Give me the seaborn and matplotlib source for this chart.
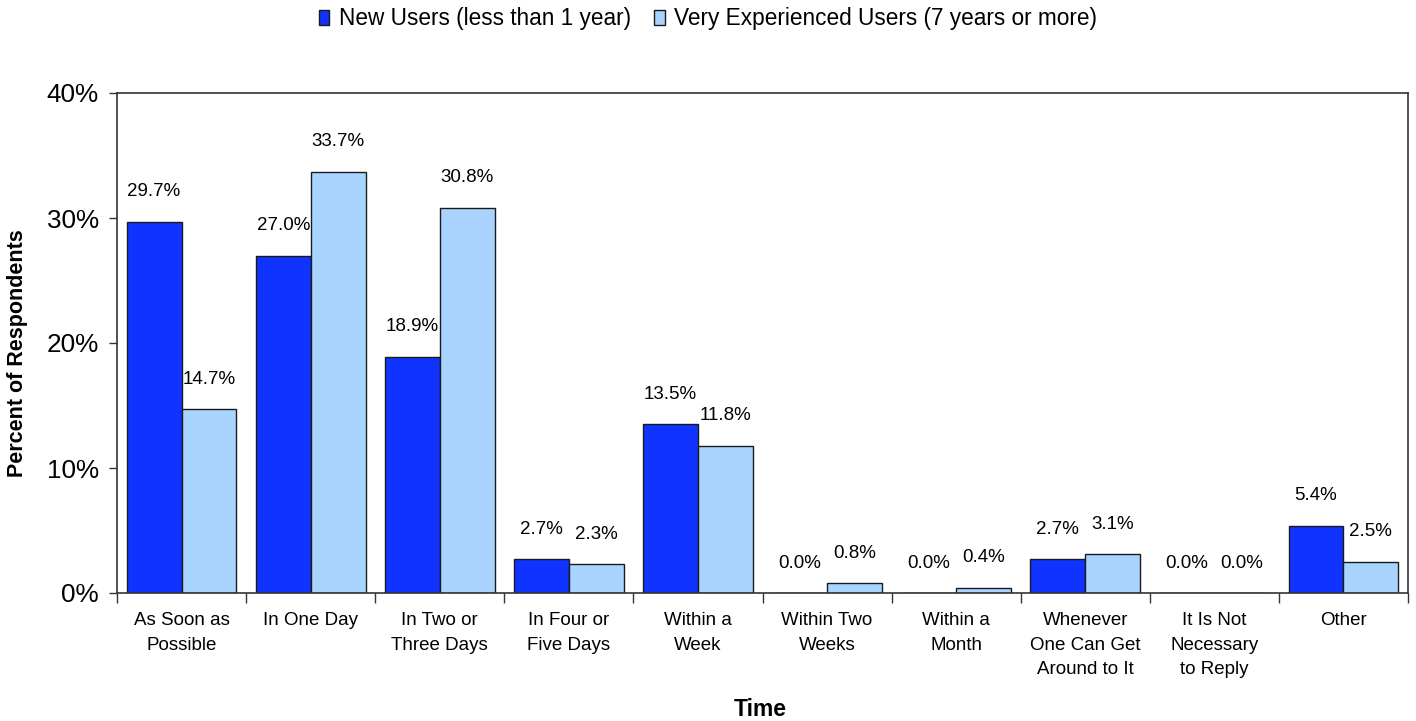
import matplotlib
matplotlib.use("Agg")
import matplotlib.pyplot as plt
import seaborn as sns
import pandas as pd
from matplotlib.ticker import FixedLocator, PercentFormatter

categories = ["As Soon as\nPossible", "In One Day", "In Two or\nThree Days", "In Four or\nFive Days",
              "Within a\nWeek", "Within Two\nWeeks", "Within a\nMonth", "Whenever\nOne Can Get\nAround to It",
              "It Is Not\nNecessary\nto Reply", "Other"]
new_users = [29.7, 27.0, 18.9, 2.7, 13.5, 0.0, 0.0, 2.7, 0.0, 5.4]
experienced = [14.7, 33.7, 30.8, 2.3, 11.8, 0.8, 0.4, 3.1, 0.0, 2.5]
series_names = ["New Users (less than 1 year)", "Very Experienced Users (7 years or more)"]
yticks = [0, 10, 20, 30, 40]

sns.set_theme(style="white")
plt.rcParams['font.family'] = ['Liberation Sans', 'DejaVu Sans']
plt.rcParams['text.color'] = 'black'
plt.rcParams['xtick.color'] = 'black'
plt.rcParams['ytick.color'] = 'black'

df = pd.DataFrame({
    "cat": categories * 2,
    "val": new_users + experienced,
    "series": [series_names[0]] * len(categories) + [series_names[1]] * len(categories),
})

fig = plt.figure(figsize=(14.16, 7.21), dpi=100)
ax = fig.add_axes([117/1416, 1 - 593/721, (1408-117)/1416, (593-93)/721])

palette = {series_names[0]: "#1033FF", series_names[1]: "#A8D4FF"}
sns.barplot(data=df, x="cat", y="val", hue="series", palette=palette, width=0.85,
            edgecolor="#1a1a1a", linewidth=1.0, saturation=1, ax=ax)

ax.set_xlim(-0.5, len(categories) - 0.5)
ax.set_ylim(0, 40)
ax.yaxis.set_major_locator(FixedLocator(yticks))
ax.yaxis.set_major_formatter(PercentFormatter(decimals=0))
ax.tick_params(axis="y", which="major", length=6, width=1, color="#333333", labelcolor="black",
               labelsize=18.8, pad=7, left=True)
ax.set_xticks(range(len(categories)))
ax.set_xticklabels(categories, fontsize=13.5, linespacing=1.55, va="top")
ax.tick_params(axis="x", which="major", length=0, pad=14, labelcolor="black")
ax.set_xticks([i - 0.5 for i in range(len(categories) + 1)], minor=True)
ax.tick_params(axis="x", which="minor", length=7, width=1, color="#333333", bottom=True)

for s in ax.spines.values():
    s.set_visible(True)
    s.set_color("#333333")
    s.set_linewidth(1.2)

ax.set_ylabel("")
ax.set_xlabel("")
fig.text(18/1416, 1 - 353/721, "Percent of Respondents", rotation=90, ha="center", va="center",
         fontsize=15.5, fontweight="bold", color="black")
fig.text(760/1416, 1 - 710/721, "Time", ha="center", va="center",
         fontsize=16.5, fontweight="bold", color="black")

for cont, vals in zip(ax.containers, [new_users, experienced]):
    for bar, v in zip(cont, vals):
        x = bar.get_x() + bar.get_width() / 2
        ax.annotate(f"{v:.1f}%", (x, bar.get_height()), xytext=(0, 30), textcoords="offset pixels",
                    ha="center", va="center", fontsize=13.5, color="black")

leg = ax.get_legend()
handles, labels = ax.get_legend_handles_labels()
leg.remove()
fig.legend(handles, labels, loc="center", bbox_to_anchor=(708/1416, 1 - 19/721), ncol=2, frameon=False,
           fontsize=16.3, handlelength=0.45, handleheight=0.6, handletextpad=0.4, columnspacing=1.05,
           borderpad=0, labelcolor="black")

fig.savefig("out.png", dpi=100)
